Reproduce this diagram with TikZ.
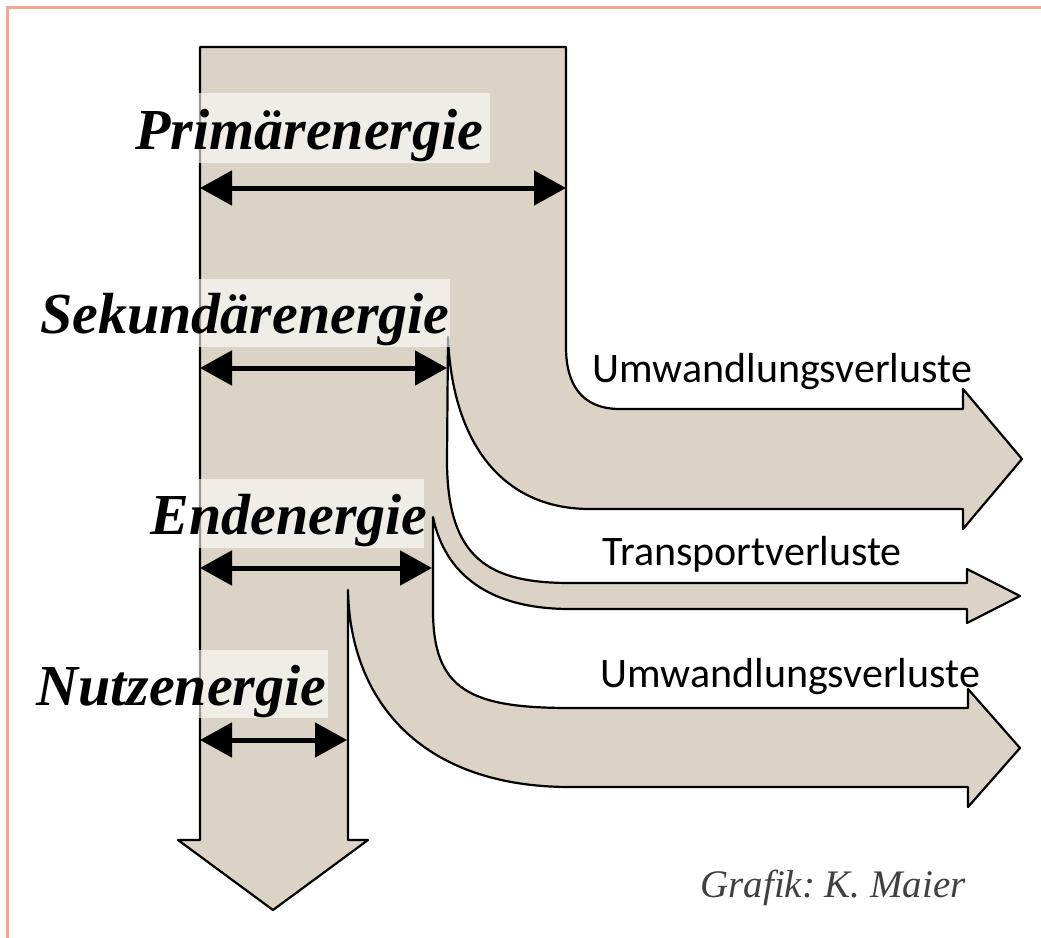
\documentclass[tikz,border=0pt]{standalone}
\usepackage{fontspec}
\setmainfont{Liberation Serif}
\newfontfamily\sansf{Carlito}
\usetikzlibrary{arrows.meta}
\definecolor{flowfill}{HTML}{DBD3C5}
\definecolor{frameorange}{HTML}{F6A68E}
\frenchspacing
\begin{document}
\begin{tikzpicture}[x=0.5pt,y=-0.5pt,
  flow/.style={fill=flowfill,draw=black,line width=1.1pt,line join=round},
  hl/.style={fill=white,fill opacity=0.6,draw=none},
  lab/.style={anchor=base west,inner sep=0pt,font=\fontsize{29}{32}\selectfont\bfseries\itshape},
  loss/.style={anchor=base west,inner sep=0pt,font=\sansf\fontsize{21}{24}\selectfont},
  credit/.style={anchor=base west,inner sep=0pt,font=\fontsize{19.5}{22}\selectfont\itshape,text=black!75},
  dim/.style={line width=2.5pt,{Triangle[length=16pt,width=17pt]}-{Triangle[length=16pt,width=17pt]}}]
\useasboundingbox (0,0) rectangle (1041,938);
\draw[frameorange,line width=1.5pt] (7,938) -- (7,7) -- (1041,7);

\path[flow] (200,47) -- (566,47) -- (566,347)
  .. controls (566,385) and (582,409) .. (620,409) -- (963,409) -- (963,389) -- (1022,459) -- (963,529) -- (963,509) -- (590,509)
  .. controls (500,509) and (452,440) .. (448,337)
  -- (447,460) .. controls (447,560) and (490,583) .. (570,583)
  -- (967,583) -- (967,569) -- (1020,596) -- (967,623) -- (967,609) -- (570,609)
  .. controls (490,609) and (445,575) .. (433,517)
  -- (433,610) .. controls (433,690) and (470,708) .. (570,708)
  -- (968,708) -- (968,689) -- (1020,748) -- (968,807) -- (968,787) -- (570,787)
  .. controls (420,787) and (350,700) .. (348,590)
  -- (348,840) -- (368,840) -- (273,910) -- (178,840) -- (200,840) -- cycle;

\fill[hl] (198,93) rectangle (490,163);
\fill[hl] (198,279) rectangle (450,347);
\fill[hl] (198,479) rectangle (424,548);
\fill[hl] (198,650) rectangle (328,718);

\node[lab] (prim) at (135,149) {Primärenergie};
\node[lab] (sek) at (40,333) {Sekundärenergie};
\node[lab] (end) at (150,534) {Endenergie};
\node[lab] (nutz) at (36,705) {Nutzenergie};

\coordinate (p1) at (200,188); \coordinate (p2) at (566,188);
\coordinate (s1) at (200,368); \coordinate (s2) at (447,368);
\coordinate (e1) at (200,568); \coordinate (e2) at (432,568);
\coordinate (n1) at (200,740); \coordinate (n2) at (347,740);
\draw[dim] (p1) -- (p2);
\draw[dim] (s1) -- (s2);
\draw[dim] (e1) -- (e2);
\draw[dim] (n1) -- (n2);

\node[loss] (u1) at (592,382) {Umwandlungsverluste};
\node[loss] (tr) at (602,565) {Transportverluste};
\node[loss] (u2) at (600,687) {Umwandlungsverluste};
\node[credit] (cr) at (700,897) {Grafik: K. Maier};
\end{tikzpicture}
\end{document}
